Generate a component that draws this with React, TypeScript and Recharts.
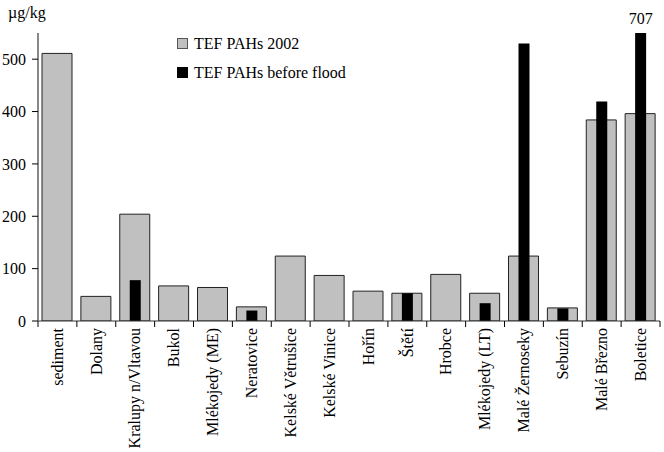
import { BarChart, Bar, XAxis, YAxis, LabelList } from "recharts"

const categories = [
  "sediment",
  "Dolany",
  "Kralupy n/Vltavou",
  "Bukol",
  "Mlékojedy (ME)",
  "Neratovice",
  "Kelské Větrušice",
  "Kelské Vinice",
  "Hořín",
  "Štětí",
  "Hrobce",
  "Mlékojedy (LT)",
  "Malé Žernoseky",
  "Sebuzín",
  "Malé Březno",
  "Boletice",
]

const tef2002 = [511, 47, 204, 67, 64, 27, 124, 87, 57, 53, 89, 53, 124, 25, 384, 396]
const tefBeforeFlood = [null, null, 78, null, null, 20, null, null, null, 53, null, 34, 530, 24, 419, 707]

const yTicks = [0, 100, 200, 300, 400, 500]
const Y_MAX = 550

const data = categories.map((name, i) => ({
  name,
  y2002: tef2002[i],
  before: tefBeforeFlood[i],
}))

const W = 664
const H = 452
const MARGIN = { top: 33, right: 4, left: 0, bottom: 0 }
const Y_AXIS_W = 38
const PLOT_W = W - MARGIN.left - MARGIN.right - Y_AXIS_W
const STEP = PLOT_W / categories.length
const FONT = "Liberation Serif, Times New Roman, serif"

const CategoryTick = (props: any) => {
  const { x, y, payload, index } = props
  const last = index === categories.length - 1
  return (
    <g transform={`translate(${x},${y})`}>
      <line x1={-STEP / 2} x2={-STEP / 2} y1={0} y2={6} stroke="#000" />
      {last && <line x1={STEP / 2} x2={STEP / 2} y1={0} y2={6} stroke="#000" />}
      <text
        transform="rotate(-90)"
        x={-7}
        y={0}
        dy="0.33em"
        textAnchor="end"
        style={{ fontSize: 16, fontFamily: FONT }}
        fill="#000"
      >
        {payload.value}
      </text>
    </g>
  )
}

const ValueTick = (props: any) => {
  const { x, y, payload } = props
  return (
    <text x={x} y={y} dy="0.35em" textAnchor="end" style={{ fontSize: 16, fontFamily: FONT }} fill="#000">
      {payload.value}
    </text>
  )
}

const OverflowLabel = (props: any) => {
  const { x, y, width, value } = props
  if (value == null || value <= Y_MAX) return null
  return (
    <text
      x={x + width / 2}
      y={Math.max(y, MARGIN.top) - 9}
      textAnchor="middle"
      style={{ fontSize: 16, fontFamily: FONT }}
      fill="#000"
    >
      {value}
    </text>
  )
}

const legendItems = [
  { label: "TEF PAHs 2002", fill: "#c0c0c0", stroke: "#555" },
  { label: "TEF PAHs before flood", fill: "#000", stroke: "#000" },
]

export default function App() {
  return (
    <div style={{ position: "absolute", left: 0, top: 0, width: W, height: H, background: "#fff" }}>
      <div
        style={{
          position: "absolute",
          left: 8,
          top: 4,
          fontFamily: FONT,
          fontSize: 16,
          color: "#000",
        }}
      >
        µg/kg
      </div>
      <div
        style={{
          position: "absolute",
          left: 177,
          top: 29,
          fontFamily: FONT,
          fontSize: 16,
          color: "#000",
          zIndex: 1,
        }}
      >
        {legendItems.map(item => (
          <div key={item.label} style={{ display: "flex", alignItems: "center", height: 29 }}>
            <span
              style={{
                display: "inline-block",
                width: 9,
                height: 9,
                background: item.fill,
                border: `1px solid ${item.stroke}`,
                marginRight: 6,
              }}
            />
            {item.label}
          </div>
        ))}
      </div>
      <BarChart width={W} height={H} data={data} margin={MARGIN}>
        <XAxis
          xAxisId="a"
          dataKey="name"
          interval={0}
          height={H - 321}
          tickSize={0}
          tickMargin={0}
          tickLine={false}
          axisLine={{ stroke: "#333" }}
          tick={<CategoryTick />}
        />
        <XAxis xAxisId="b" dataKey="name" hide />
        <YAxis
          width={Y_AXIS_W}
          domain={[0, Y_MAX]}
          ticks={yTicks}
          allowDataOverflow
          tickSize={6}
          tickMargin={6}
          tick={<ValueTick />}
          tickLine={{ stroke: "#000" }}
          axisLine={{ stroke: "#888", strokeWidth: 2 }}
        />
        <Bar
          xAxisId="a"
          dataKey="y2002"
          name="TEF PAHs 2002"
          barSize={30}
          fill="#c0c0c0"
          stroke="#222"
          strokeWidth={1}
          isAnimationActive={false}
        />
        <Bar
          xAxisId="b"
          dataKey="before"
          name="TEF PAHs before flood"
          barSize={11}
          fill="#000"
          isAnimationActive={false}
        >
          <LabelList dataKey="before" content={<OverflowLabel />} />
        </Bar>
      </BarChart>
    </div>
  )
}
